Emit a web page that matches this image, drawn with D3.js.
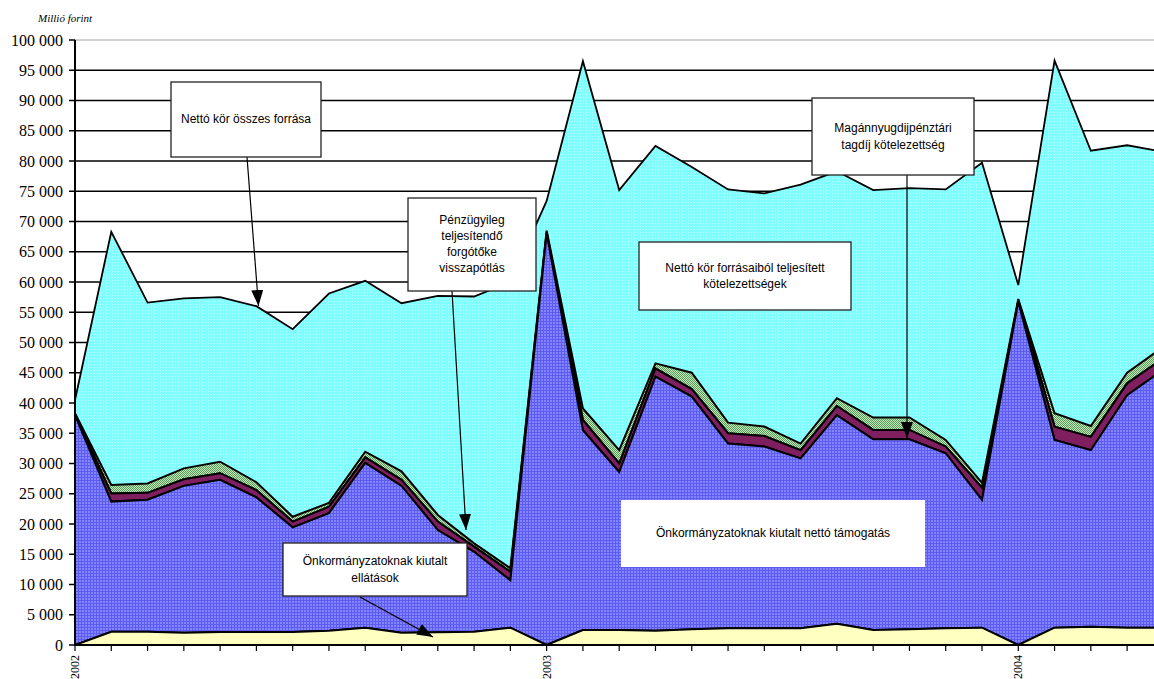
<!DOCTYPE html>
<html><head><meta charset="utf-8">
<script src="https://cdn.jsdelivr.net/npm/d3@7"></script>
<style>body{margin:0;background:#fff}svg{display:block}</style>
</head><body><svg id="c" width="1154" height="679"></svg>
<script>
// Categories: year opening point followed by monthly points
const categories = ["2002","1","2","3","4","5","6","7","8","9","10","11","12",
                    "2003","1","2","3","4","5","6","7","8","9","10","11","12",
                    "2004","1","2","3","4"];
// Series values (millió forint)
const ellatasok   = [0,2200,2200,2030,2150,2150,2150,2360,2860,2030,2100,2200,2860,
                     0,2480,2480,2360,2600,2750,2750,2750,3520,2480,2600,2750,2860,
                     0,2860,3030,2860,2860];
const nettoTamogatas = [38000,21500,21800,24270,25150,22250,17300,19440,27240,24270,16900,13200,7840,
                        68000,33020,26120,41990,38450,30550,30050,28100,34480,31520,31400,28950,21140,
                        56750,31040,29170,38440,42640];
const maganNyugdij = [150,1350,1150,1100,1100,1200,950,1050,900,1000,1400,850,1400,
                      300,1700,1400,1350,1250,1700,1750,1350,1500,1550,1550,1100,2000,
                      250,2200,2200,1950,1900];
const forgotoke    = [150,1400,1550,1800,1900,1300,800,650,950,1400,1100,550,600,
                      200,1900,2200,850,2700,1750,1550,1100,1300,2050,2050,1100,800,
                      200,2200,1800,1750,1900];
const osszesForras = [40500,68300,56600,57300,57500,56000,52200,58100,60200,56500,57700,57600,60000,
                      73400,96500,75200,82500,79000,75300,74650,76100,78300,75200,75500,75300,79700,
                      59500,96600,81700,82600,81500];
const yTicks = [0,5000,10000,15000,20000,25000,30000,35000,40000,45000,50000,55000,60000,65000,70000,75000,80000,85000,90000,95000,100000];

const svg = d3.select("#c");
const defs = svg.append("defs");
const pLeft = 75, pRight = 1154, pTop = 40, pBottom = 645;
const step = 36.28;
const x = d3.scaleLinear().domain([0, categories.length-1]).range([pLeft, pLeft + step*(categories.length-1)]);
const y = d3.scaleLinear().domain([0,100000]).range([pBottom, pTop]);

defs.append("clipPath").attr("id","plotclip").append("rect")
  .attr("x",pLeft).attr("y",0).attr("width",pRight-pLeft).attr("height",pBottom+1);

// patterns
let p = defs.append("pattern").attr("id","pcyan").attr("width",3).attr("height",3).attr("patternUnits","userSpaceOnUse");
p.append("rect").attr("width",3).attr("height",3).attr("fill","#80ffff");
p.append("rect").attr("x",1).attr("y",1).attr("width",1).attr("height",1).attr("fill","#c8ffff");
p = defs.append("pattern").attr("id","pblue").attr("width",3).attr("height",3).attr("patternUnits","userSpaceOnUse");
p.append("rect").attr("width",3).attr("height",3).attr("fill","#8484ff");
p.append("rect").attr("x",0).attr("y",0).attr("width",3).attr("height",1).attr("fill","#5c5cf0");
p.append("rect").attr("x",0).attr("y",0).attr("width",1).attr("height",3).attr("fill","#5c5cf0");
p = defs.append("pattern").attr("id","pgreen").attr("width",2).attr("height",2).attr("patternUnits","userSpaceOnUse");
p.append("rect").attr("width",2).attr("height",2).attr("fill","#c0e8b8");
p.append("rect").attr("x",0).attr("y",0).attr("width",1).attr("height",1).attr("fill","#5a9a5a");
p.append("rect").attr("x",1).attr("y",1).attr("width",1).attr("height",1).attr("fill","#5a9a5a");

// gridlines
const g = svg.append("g");
g.selectAll("line.grid").data(yTicks.filter(d=>d>0)).join("line")
  .attr("x1",pLeft).attr("x2",pRight).attr("y1",d=>y(d)).attr("y2",d=>y(d))
  .attr("stroke",d=>d===100000?"#c0c0c0":"#000").attr("stroke-width",1.5);

// stacked layers
const idx = d3.range(categories.length);
const rows = idx.map(i=>({i, ell:ellatasok[i], tam:nettoTamogatas[i], mag:maganNyugdij[i], forg:forgotoke[i]}));
const stack = d3.stack().keys(["ell","tam","mag","forg"])(rows);

const plot = svg.append("g").attr("clip-path","url(#plotclip)");
const areaTotal = d3.area().x((d,i)=>x(i)).y0(y(0)).y1(d=>y(d));
plot.append("path").datum(osszesForras).attr("d",areaTotal)
  .attr("fill","url(#pcyan)").attr("stroke","#000").attr("stroke-width",1.8).attr("stroke-linejoin","miter");

const fills = {ell:"#ffffc0", tam:"url(#pblue)", mag:"#7f1f5f", forg:"url(#pgreen)"};
const area = d3.area().x(d=>x(d.data.i)).y0(d=>y(d[0])).y1(d=>y(d[1]));
const order = ["forg","mag","tam","ell"];
order.forEach(k=>{
  const s = stack.find(s=>s.key===k);
  plot.append("path").datum(s).attr("d",area)
    .attr("fill",fills[k]).attr("stroke","#000").attr("stroke-width",2).attr("stroke-linejoin","miter");
});

// axes
svg.append("line").attr("x1",pLeft).attr("x2",pLeft).attr("y1",pTop).attr("y2",pBottom).attr("stroke","#000").attr("stroke-width",2);
svg.append("line").attr("x1",pLeft).attr("x2",pRight).attr("y1",pBottom).attr("y2",pBottom).attr("stroke","#000").attr("stroke-width",2);
svg.selectAll("line.yt").data(yTicks).join("line").attr("class","yt")
  .attr("x1",69).attr("x2",pLeft).attr("y1",d=>y(d)).attr("y2",d=>y(d)).attr("stroke","#000").attr("stroke-width",1.5);
const fmt = d=> d===0 ? "0" : d3.format(",")(d).replace(/,/g," ");
svg.selectAll("text.yl").data(yTicks).join("text").attr("class","yl")
  .attr("x",63).attr("y",d=>y(d)).attr("dy","0.35em").attr("text-anchor","end")
  .attr("font-family","'Liberation Serif','Times New Roman',serif").attr("font-size",16).attr("fill","#000")
  .text(fmt);
svg.selectAll("line.xt").data(idx.filter(i=>x(i)<=pRight)).join("line").attr("class","xt")
  .attr("x1",i=>x(i)).attr("x2",i=>x(i)).attr("y1",pBottom).attr("y2",651).attr("stroke","#000").attr("stroke-width",1.2);
svg.selectAll("text.xl").data(idx.filter(i=>categories[i].length===4)).join("text").attr("class","xl")
  .attr("transform",i=>`translate(${x(i)+4},655) rotate(-90)`).attr("text-anchor","end")
  .attr("font-family","'Liberation Serif','Times New Roman',serif").attr("font-size",12).attr("fill","#000")
  .text(i=>categories[i]);

svg.append("text").attr("x",38).attr("y",22).attr("font-family","'Liberation Serif','Times New Roman',serif")
  .attr("font-style","italic").attr("font-size",11).text("Millió forint");

// annotations
defs.append("marker").attr("id","arr").attr("viewBox","0 0 16 12").attr("refX",16).attr("refY",6)
  .attr("markerWidth",16).attr("markerHeight",12).attr("markerUnits","userSpaceOnUse").attr("orient","auto")
  .append("path").attr("d","M0,0L16,6L0,12Z").attr("fill","#000");

const arrows = [[247,157,258.5,306],[452,291,466,530],[907,175,907,438],[360,597,433,637]];
svg.selectAll("line.arrow").data(arrows).join("line").attr("class","arrow")
  .attr("x1",d=>d[0]).attr("y1",d=>d[1]).attr("x2",d=>d[2]).attr("y2",d=>d[3])
  .attr("stroke","#000").attr("stroke-width",1.2).attr("marker-end","url(#arr)");

const boxes = [
  {x:171,y:82,w:150,h:75,border:true,lines:["Nettó kör összes forrása"],ty:[119]},
  {x:408,y:198,w:128,h:93,border:true,lines:["Pénzügyileg","teljesítendő","forgótőke","visszapótlás"],ty:[220,236,252,268]},
  {x:639,y:242,w:212,h:68,border:true,lines:["Nettó kör forrásaiból teljesített","kötelezettségek"],ty:[268,284]},
  {x:812,y:98,w:162,h:77,border:true,lines:["Magánnyugdijpénztári","tagdíj kötelezettség"],ty:[128,145]},
  {x:621,y:500,w:304,h:67,border:false,lines:["Önkormányzatoknak kiutalt nettó támogatás"],ty:[533]},
  {x:283,y:543,w:184,h:53,border:true,lines:["Önkormányzatoknak kiutalt","ellátások"],ty:[561,578]}
];
boxes.forEach(b=>{
  const gb = svg.append("g");
  gb.append("rect").attr("x",b.x).attr("y",b.y).attr("width",b.w).attr("height",b.h)
    .attr("fill","#fff").attr("stroke",b.border?"#222":"none").attr("stroke-width",1.3);
  b.lines.forEach((t,j)=>{
    gb.append("text").attr("x",b.x+b.w/2).attr("y",b.ty[j]).attr("dy","0.35em").attr("text-anchor","middle")
      .attr("font-family","'Liberation Sans',Arial,sans-serif").attr("font-size",12).attr("fill","#000").text(t);
  });
});
</script></body></html>
